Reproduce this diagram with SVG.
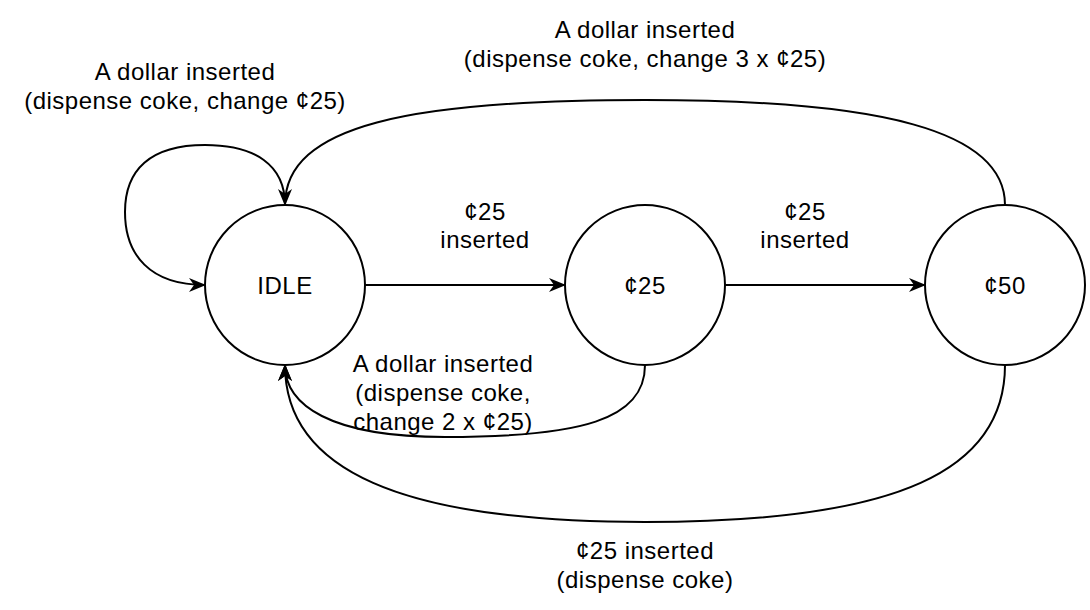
<svg xmlns="http://www.w3.org/2000/svg" width="1090" height="610" viewBox="0 0 1090 610">
<style>
.node{fill:#ffffff;stroke:#000000;stroke-width:2}
.edge{fill:none;stroke:#000000;stroke-width:2;marker-end:url(#arrow)}
text{font-family:"Liberation Sans",Arial,sans-serif;font-size:24px;letter-spacing:0.5px;fill:#000000;text-anchor:middle}
</style>
<defs>
<marker id="arrow" markerUnits="userSpaceOnUse" viewBox="0 0 17 14" refX="16" refY="7" markerWidth="17" markerHeight="14" orient="auto">
<path d="M0,0 L17,7 L0,14 L5,7 Z" fill="#000000"/>
</marker>
</defs>
<rect width="1090" height="610" fill="#ffffff"/>
<g id="connectors">
<path class="edge" d="M285,205 C285,165 255,145 205,145 C150,145 125,170 125,212 C125,255 150,285 205,285"/>
<path class="edge" d="M1005,205 C1005,130 880,100 645,100 C410,100 285,125 285,205"/>
<path class="edge" d="M365,285 L565,285"/>
<path class="edge" d="M725,285 L925,285"/>
<path class="edge" d="M645,365 C645,420 580,437 445,437 C330,437 285,405 285,365"/>
<path class="edge" d="M1005,365 C1005,470 900,522 645,522 C400,522 285,470 285,365"/>
</g>
<g id="labels">
<text x="185" y="80">A dollar inserted</text>
<text x="185" y="109">(dispense coke, change ¢25)</text>
<text x="645" y="38">A dollar inserted</text>
<text x="645" y="67">(dispense coke, change 3 x ¢25)</text>
<text x="485" y="220">¢25</text>
<text x="485" y="248">inserted</text>
<text x="805" y="220">¢25</text>
<text x="805" y="248">inserted</text>
<text x="443" y="372">A dollar inserted</text>
<text x="443" y="401">(dispense coke,</text>
<text x="443" y="430">change 2 x ¢25)</text>
<text x="645" y="559">¢25 inserted</text>
<text x="645" y="588">(dispense coke)</text>
</g>
<g id="idle">
<circle class="node" cx="285" cy="285" r="80"/>
<text x="285" y="294">IDLE</text>
</g>
<g id="c25">
<circle class="node" cx="645" cy="285" r="80"/>
<text x="645" y="294">¢25</text>
</g>
<g id="c50">
<circle class="node" cx="1005" cy="285" r="80"/>
<text x="1005" y="294">¢50</text>
</g>
</svg>
